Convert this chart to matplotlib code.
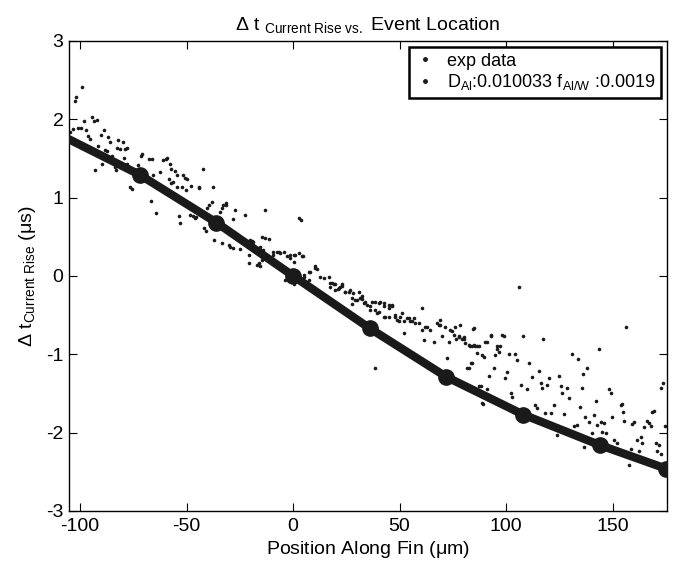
import matplotlib
matplotlib.use("Agg")
import matplotlib.pyplot as plt
from matplotlib.lines import Line2D
from matplotlib import font_manager

# ---- data ------------------------------------------------------------
exp_x = [
    -98.9, -102.5, -102.1, -104.7, -103.3, -100.8, -99.7, -98.1, -97.3, -94.5,
    -93.4, -92.2, -96.2, -95.3, -90.3, -89.0, -91.4, -92.8, -89.8, -88.4,
    -87.6, -86.8, -86.0, -84.8, -82.5, -81.5, -80.1, -82.3, -79.3, -78.9,
    -77.8, -83.1, -83.6, -80.1, -78.2, -76.5, -75.7, -72.7, -71.5, -70.9,
    -67.6, -66.2, -66.5, -64.4, -65.6, -62.4, -60.9, -59.6, -59.0, -57.9,
    -57.1, -58.5, -57.1, -56.3, -55.4, -54.6, -54.3, -52.2, -50.3, -51.9,
    -50.8, -49.7, -48.0, -44.1, -42.5, -37.6, -53.8, -53.0, -48.3, -46.8,
    -45.6, -40.2, -39.4, -38.3, -41.7, -40.9,
    -44.4, -46.0, -34.5, -33.3, -31.7, -28.0, -27.2, -22.5, -13.1, 2.6,
    3.7, -37.0, -33.4, -30.3, -29.5, -28.2, -24.8, -20.9, -17.0, -15.9,
    -20.1, -18.6, -14.6, -13.1, -11.5, -15.4, -9.2, -7.6, -6.0, -4.5,
    -2.9, -1.3, 0.2, 2.6, 4.6, -3.7, 0.2, 5.3, 7.3, 10.4,
    11.2, 12.8, 14.3, 16.7, 18.3, 19.8, 21.9, -32.7, -31.5, -19.3,
    -17.0, -15.4, -14.6, -20.9,
    -13.9, -9.2, -6.8, -1.3, 1.0, 4.2, 0.2, 4.9, 8.1, 10.4,
    7.3, 17.5, 19.0, 20.9, 23.0, 24.5, 26.6, 28.1, 27.7, 30.0,
    31.6, 32.4, 33.9, 36.3, 38.6, 40.2, 42.5, 44.9, 46.5, 39.4,
    42.5, 44.9, 48.0, 49.6, 51.2, 51.9, 54.3, 55.9, 57.4, 59.0,
    60.6, 52.3, 38.6, 72.3, 61.3, 62.1, 64.5, 66.0, 67.6, 69.2,
    70.0, 71.5, 73.1, 74.7, 76.2, 77.8, 78.6, 79.4, 80.9, 82.5,
    84.1, 84.8, 86.4, 87.2, 81.7, 83.6,
    17.5, 19.8, 21.4, 23.0, 24.5, 26.1, 27.7, 29.2, 30.8, 32.4,
    33.1, 34.7, 36.3, 37.1, 38.6, 40.2, 41.0, 42.5, 43.3, 44.9,
    46.5, 48.0, 48.8, 50.4, 53.5, 55.1, 56.6, 60.6, 62.9, 68.4,
    73.9, 75.4, 76.7, 80.1, 83.3, 85.6, 88.8, 89.8, 91.1, 92.7,
    95.8, 96.6, 98.2, 89.2, 91.1, 87.2,
    106.3, 156.1, 69.2, 77.8, 80.1, 84.8, 86.4, 84.5, 90.3, 92.7,
    95.0, 95.8, 97.0, 98.9, 101.3, 104.4, 105.2, 108.0, 110.7, 112.3,
    115.4, 116.2, 117.4, 119.0, 120.1, 117.0, 82.5, 84.1, 94.2, 99.7,
    100.5, 91.9, 88.0, 88.8, 102.1, 102.9, 106.8, 109.9, 113.8, 114.6,
    118.5, 120.9, 122.4, 124.8, 125.6, 126.4, 127.1, 128.7, 129.5, 131.1,
    131.8, 133.4, 133.9, 134.6, 135.8, 136.2, 138.1, 137.3, 138.9, 140.5,
    141.2, 142.0, 142.8, 143.6, 144.4, 145.2, 145.9, 146.7, 148.3, 149.1,
    149.9, 150.6, 152.2, 153.8, 154.6, 155.0, 155.6, 159.3, 160.0, 161.6,
    163.2, 164.0, 164.7, 166.0, 167.1, 167.9, 168.7, 169.4, 170.2, 171.0,
    171.8, 172.6, 173.5, 174.5, 172.9, 157.7, 136.8, 124.0, 162.4, 158.5,
]
exp_y = [
    2.41, 2.23, 2.28, 1.83, 1.88, 1.89, 1.89, 1.98, 1.86, 2.03,
    1.98, 1.99, 1.78, 1.75, 1.80, 1.86, 1.66, 1.35, 1.43, 1.61,
    1.60, 1.77, 1.71, 1.53, 1.63, 1.62, 1.71, 1.74, 1.51, 1.62,
    1.63, 1.35, 1.39, 1.39, 1.43, 1.14, 1.11, 1.41, 1.53, 1.55,
    1.49, 1.49, 0.95, 0.80, 1.29, 1.33, 1.48, 1.49, 1.50, 1.43,
    1.36, 1.23, 1.19, 1.20, 1.34, 1.29, 1.13, 1.13, 1.10, 1.29,
    1.25, 1.24, 1.15, 1.13, 1.36, 1.13, 0.77, 0.67, 0.78, 0.76,
    0.75, 0.87, 0.90, 0.94, 0.61, 0.57,
    1.12, 0.74, 0.81, 0.86, 0.90, 0.72, 0.84, 0.78, 0.84, 0.74,
    0.71, 0.46, 0.42, 0.40, 0.37, 0.36, 0.34, 0.26, 0.14, 0.17,
    0.46, 0.43, 0.49, 0.48, 0.47, 0.37, 0.27, 0.30, 0.29, 0.30,
    0.25, 0.23, 0.26, 0.29, 0.25, -0.05, -0.10, 0.01, 0.05, 0.12,
    0.09, -0.01, -0.03, -0.01, -0.09, -0.11, -0.14, 0.91, 0.93, 0.44,
    0.33, 0.12, 0.20, 0.16,
    0.33, 0.31, 0.30, 0.27, 0.26, 0.25, 0.18, -0.01, 0.05, 0.10,
    -0.05, -0.14, -0.11, -0.17, -0.13, -0.20, -0.18, -0.22, -0.36, -0.31,
    -0.28, -0.26, -0.34, -0.39, -0.43, -0.35, -0.38, -0.41, -0.37, -0.48,
    -0.52, -0.53, -0.52, -0.58, -0.48, -0.58, -0.54, -0.58, -0.60, -0.60,
    -0.41, -0.73, -1.17, -1.05, -0.82, -0.65, -0.69, -0.84, -0.60, -0.63,
    -0.77, -0.65, -0.84, -0.71, -0.65, -0.77, -0.63, -0.80, -0.86, -0.88,
    -0.90, -0.67, -0.99, -0.89, -1.18, -1.11,
    -0.09, -0.18, -0.16, -0.10, -0.21, -0.20, -0.28, -0.31, -0.20, -0.30,
    -0.35, -0.37, -0.43, -0.33, -0.34, -0.46, -0.33, -0.35, -0.52, -0.37,
    -0.39, -0.50, -0.56, -0.52, -0.54, -0.58, -0.54, -0.69, -0.65, -0.63,
    -0.69, -0.75, -0.80, -0.80, -0.90, -0.89, -1.01, -1.03, -0.84, -0.75,
    -0.90, -0.97, -0.75, -1.63, -1.45, -1.41,
    -0.14, -0.65, -0.56, -0.78, -0.78, -0.88, -0.90, -0.68, -0.84, -0.77,
    -1.01, -0.94, -0.89, -0.77, -1.00, -1.00, -1.07, -0.77, -1.11, -1.29,
    -1.22, -1.37, -0.81, -1.39, -1.31, -1.43, -1.18, -1.11, -1.17, -1.31,
    -1.23, -1.28, -1.41, -1.62, -1.50, -1.55, -1.39, -1.45, -1.65, -1.69,
    -1.75, -1.75, -1.65, -1.28, -1.41, -1.50, -1.76, -1.43, -1.56, -1.00,
    -1.92, -1.90, -1.06, -1.67, -1.43, -1.25, -1.17, -1.80, -1.86, -2.00,
    -1.77, -1.60, -1.90, -0.94, -1.87, -1.99, -1.88, -2.01, -1.45, -1.50,
    -1.80, -2.10, -2.13, -1.65, -1.63, -1.74, -1.85, -1.89, -1.87, -2.10,
    -2.06, -2.13, -1.93, -1.85, -1.88, -1.92, -1.74, -1.73, -2.14, -2.24,
    -2.16, -1.43, -1.37, -1.92, -2.27, -2.41, -2.18, -2.03, -2.24, -2.21,
]

model_x = [-105, -72, -36, 0, 36, 72, 108, 144, 175]
model_y = [1.74, 1.29, 0.68, 0.0, -0.67, -1.29, -1.77, -2.16, -2.46]

x_ticks = [-100, -50, 0, 50, 100, 150]
y_ticks = [-3, -2, -1, 0, 1, 2, 3]

# ---- fonts ------------------------------------------------------------
names = {f.name for f in font_manager.fontManager.ttflist}
base = "Liberation Sans Narrow" if "Liberation Sans Narrow" in names else "Liberation Sans"
plt.rcParams["font.family"] = [base, "DejaVu Sans"]
plt.rcParams["mathtext.fontset"] = "custom"
plt.rcParams["mathtext.rm"] = base
plt.rcParams["mathtext.it"] = base
plt.rcParams["mathtext.sf"] = base
plt.rcParams["axes.unicode_minus"] = False

fig = plt.figure(figsize=(6.77, 5.67), dpi=100)
ax = fig.add_axes([0.102, 0.099, 0.883, 0.829])

ax.plot(exp_x, exp_y, ".", color="#1a1a1a", ms=5.2, mec="none", zorder=2)
ax.plot(model_x, model_y, "-o", color="#1a1a1a", lw=6, ms=11,
        markevery=list(range(1, len(model_x))), zorder=3)

ax.set_xlim(-105.2, 175.5)
ax.set_ylim(-3, 3)
ax.set_xticks(x_ticks)
ax.set_yticks(y_ticks)
ax.tick_params(direction="in", length=6, width=0.8, top=True, right=True,
               labelsize=14)
ax.tick_params(axis="y", pad=4)
ax.tick_params(axis="x", pad=5)
for s in ax.spines.values():
    s.set_linewidth(1.0)

ax.set_xlabel("Position Along Fin ($\\mathrm{\\mu}$m)", fontsize=14, labelpad=3)
ax.set_ylabel("$\\Delta$ t$_{\\mathrm{Current\\ Rise}}$ ($\\mathrm{\\mu}$s)",
              fontsize=14, labelpad=6)
ax.set_title("$\\Delta$ t $_{\\mathrm{Current\\ Rise\\ vs.}}$ Event Location",
             fontsize=14, pad=8)

handles = [
    Line2D([], [], ls="none", marker=".", color="#1a1a1a", ms=5),
    Line2D([], [], ls="none", marker=".", color="#1a1a1a", ms=5),
]
labels = ["exp data", "D$_{\\mathrm{Al}}$:0.010033 f$_{\\mathrm{Al/W}}$ :0.0019"]
leg = ax.legend(handles, labels, loc="upper right", fontsize=13,
                fancybox=False, framealpha=1, edgecolor="black",
                handlelength=1.2, handletextpad=0.6, borderpad=0.3,
                labelspacing=0.15, borderaxespad=0.35)
leg.get_frame().set_linewidth(1.8)

fig.savefig("out.png", dpi=100, facecolor="white")
